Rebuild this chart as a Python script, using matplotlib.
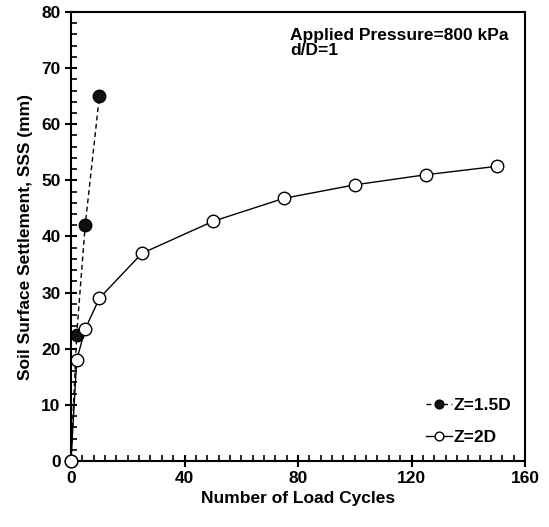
import matplotlib
matplotlib.use("Agg")
import matplotlib.pyplot as plt
from matplotlib.ticker import MultipleLocator

plt.rcParams['font.family'] = ['Liberation Sans', 'DejaVu Sans']
plt.rcParams['font.weight'] = 'bold'

# data
cycles_15 = [0, 2, 5, 10]
sss_15 = [0, 22.5, 42, 65]
cycles_2 = [0, 2, 5, 10, 25, 50, 75, 100, 125, 150]
sss_2 = [0, 18, 23.5, 29, 37, 42.7, 46.8, 49.2, 51, 52.5]

fig = plt.figure(figsize=(5.49, 5.27), dpi=100)
ax = fig.add_axes([71/549, 1 - 461/527, 454/549, 449/527])

ax.plot(cycles_15, sss_15, 'k--', lw=1, marker='o', ms=9, clip_on=False,
        mfc='#111111', mec='black', label='Z=1.5D', dashes=(3.5, 2.5), zorder=3)
ax.plot(cycles_2, sss_2, 'k-', lw=1, marker='o', ms=9, clip_on=False,
        mfc='white', mec='black', label='Z=2D', zorder=4)

ax.set_xlim(0, 160)
ax.set_ylim(0, 80)
ax.xaxis.set_major_locator(MultipleLocator(40))
ax.xaxis.set_minor_locator(MultipleLocator(4))
ax.yaxis.set_major_locator(MultipleLocator(10))
ax.yaxis.set_minor_locator(MultipleLocator(2))
ax.tick_params(which='major', direction='inout', length=8, width=1.5, labelsize=12.5)
ax.tick_params(which='minor', direction='in', length=4, width=1.2)
for s in ax.spines.values():
    s.set_linewidth(1.5)
for lab in ax.get_xticklabels() + ax.get_yticklabels():
    lab.set_fontweight('bold')
ax.set_xlabel('Number of Load Cycles', fontsize=12.5, fontweight='bold', labelpad=3)
ax.set_ylabel('Soil Surface Settlement, SSS (mm)', fontsize=12.5, fontweight='bold', labelpad=6)

ax.text(0.482, 0.965, 'Applied Pressure=800 kPa\nd/D=1', transform=ax.transAxes,
        fontsize=12.5, fontweight='bold', va='top', ha='left', linespacing=1.05)

leg = ax.legend(loc='lower right', frameon=False, fontsize=12.5, handlelength=1.5,
                markerfirst=True, handletextpad=0.1, labelspacing=1.0,
                markerscale=0.7, bbox_to_anchor=(1.005, 0.0))
for t in leg.get_texts():
    t.set_fontweight('bold')

fig.savefig('out.png', dpi=100)
